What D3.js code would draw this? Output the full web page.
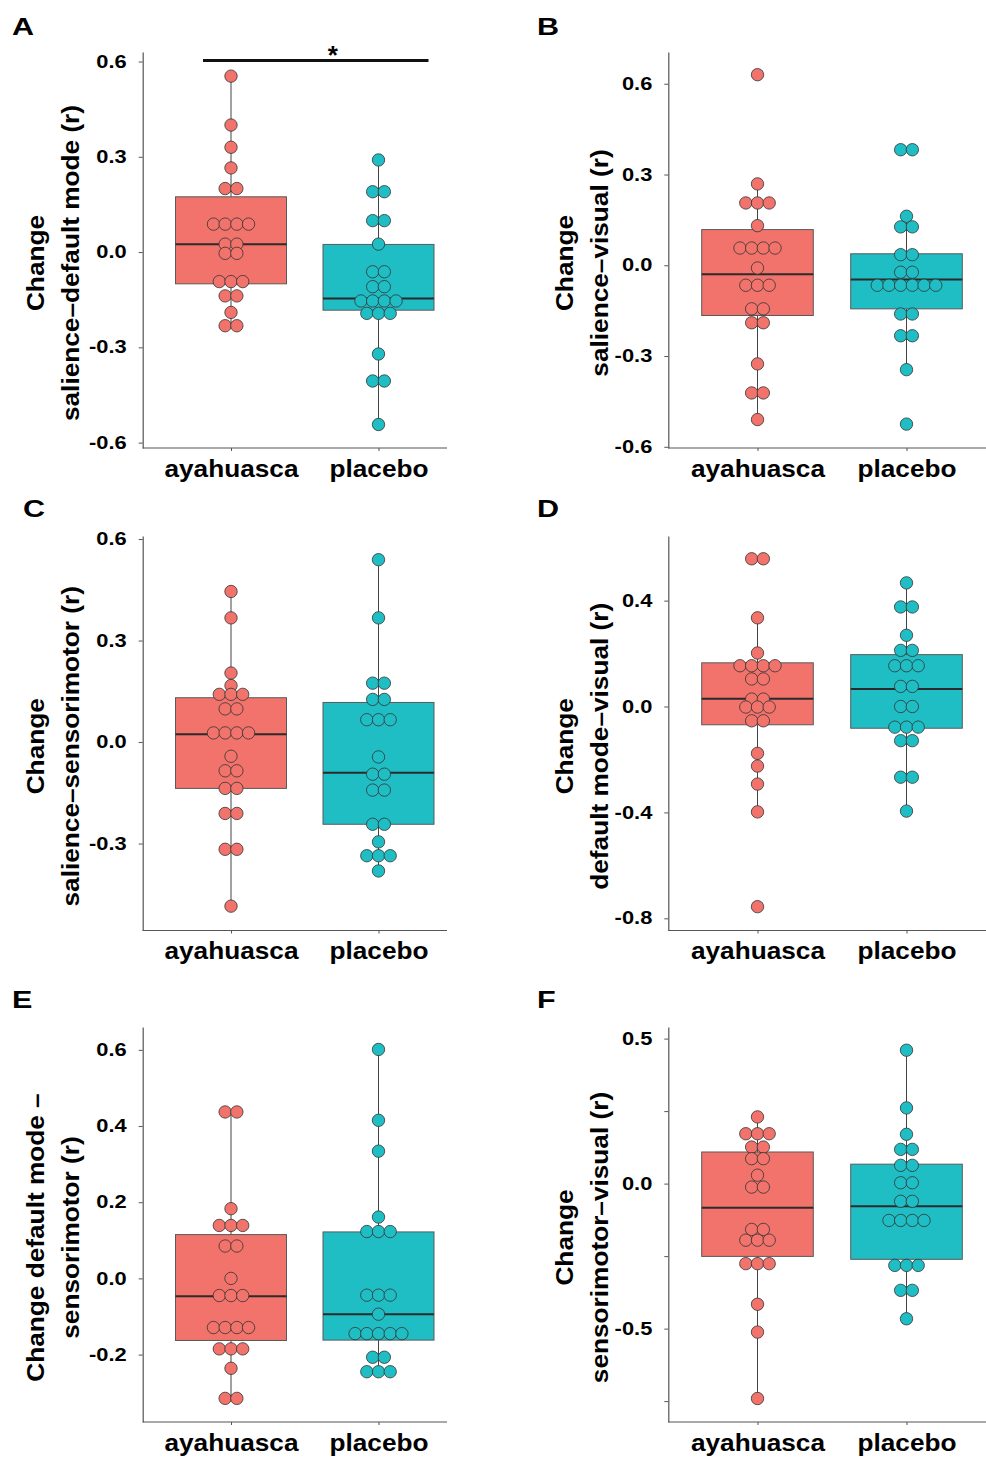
<!DOCTYPE html>
<html>
<head>
<meta charset="utf-8">
<title>ayahuasca vs placebo - connectivity change</title>
<script src="https://d3js.org/d3.v7.min.js"></script>
<style>
  body { margin: 0; background: #fff; }
  svg text { font-family: "Liberation Sans", Arial, sans-serif; font-weight: bold; fill: #000; }
</style>
</head>
<body>
<div id="fig"></div>
<script>
var groups = ["ayahuasca", "placebo"];
var colors = { ayahuasca: "#F1736B", placebo: "#1EBEC4" };
var letters = ["A", "B", "C", "D", "E", "F"];

var yLabels = [
  ["Change", "salience\u2013default mode (r)"],
  ["Change", "salience\u2013visual (r)"],
  ["Change", "salience\u2013sensorimotor (r)"],
  ["Change", "default mode\u2013visual (r)"],
  ["Change default mode \u2013", "sensorimotor (r)"],
  ["Change", "sensorimotor\u2013visual (r)"]
];

// axis extent (bottom, top)
var yDomains = [[-0.617, 0.63], [-0.604, 0.705], [-0.557, 0.609], [-0.846, 0.644], [-0.377, 0.66], [-0.822, 0.54]];

var yTicks = [
  [-0.6, -0.3, 0, 0.3, 0.6],
  [-0.6, -0.3, 0, 0.3, 0.6],
  [-0.3, 0, 0.3, 0.6],
  [-0.8, -0.4, 0, 0.4],
  [-0.2, 0, 0.2, 0.4, 0.6],
  [-0.75, -0.5, -0.25, 0, 0.25, 0.5]
];
var yTickLabels = [
  ["-0.6", "-0.3", "0.0", "0.3", "0.6"],
  ["-0.6", "-0.3", "0.0", "0.3", "0.6"],
  ["-0.3", "0.0", "0.3", "0.6"],
  ["-0.8", "-0.4", "0.0", "0.4"],
  ["-0.2", "0.0", "0.2", "0.4", "0.6"],
  ["", "-0.5", "", "0.0", "", "0.5"]
];

// dot values (equal values share a row of the dotplot)
var salDmnAya = [0.554, 0.40, 0.33, 0.265, 0.20, 0.20, 0.088, 0.088, 0.088, 0.088, 0.025, 0.025, -0.004, -0.004,
  -0.093, -0.093, -0.093, -0.138, -0.138, -0.19, -0.232, -0.232];
var salDmnPla = [0.29, 0.19, 0.19, 0.099, 0.099, 0.025, -0.062, -0.062, -0.109, -0.109, -0.154, -0.154, -0.154, -0.154,
  -0.193, -0.193, -0.193, -0.321, -0.406, -0.406, -0.543];
var salVisAya = [0.63, 0.269, 0.206, 0.206, 0.206, 0.131, 0.057, 0.057, 0.057, 0.057, -0.009, -0.066, -0.066, -0.066,
  -0.144, -0.144, -0.19, -0.19, -0.326, -0.422, -0.422, -0.51];
var salVisPla = [0.382, 0.382, 0.162, 0.127, 0.127, 0.035, 0.035, -0.023, -0.023, -0.066, -0.066, -0.066, -0.066, -0.066, -0.066,
  -0.161, -0.161, -0.233, -0.233, -0.345, -0.525];
var salSmnAya = [0.445, 0.367, 0.204, 0.167, 0.141, 0.141, 0.141, 0.098, 0.098, 0.027, 0.027, 0.027, 0.027, -0.042,
  -0.085, -0.085, -0.137, -0.137, -0.211, -0.211, -0.317, -0.317, -0.485];
var salSmnPla = [0.539, 0.367, 0.174, 0.174, 0.126, 0.126, 0.066, 0.066, 0.066, -0.044, -0.095, -0.095, -0.142, -0.142,
  -0.243, -0.243, -0.295, -0.336, -0.336, -0.336, -0.381];
var dmnVisAya = [0.558, 0.558, 0.335, 0.202, 0.154, 0.154, 0.154, 0.154, 0.104, 0.104, 0.028, 0.028, -0.002, -0.002, -0.002,
  -0.054, -0.054, -0.177, -0.225, -0.293, -0.398, -0.756];
var dmnVisPla = [0.467, 0.376, 0.376, 0.269, 0.212, 0.212, 0.154, 0.154, 0.154, 0.076, 0.076, 0.0, 0.0,
  -0.078, -0.078, -0.078, -0.129, -0.129, -0.267, -0.267, -0.395];
var dmnSmnAya = [0.437, 0.437, 0.183, 0.139, 0.139, 0.139, 0.085, 0.085, 0.0, -0.045, -0.045, -0.045,
  -0.129, -0.129, -0.129, -0.129, -0.185, -0.185, -0.185, -0.236, -0.315, -0.315];
var dmnSmnPla = [0.601, 0.415, 0.334, 0.161, 0.123, 0.123, 0.123, -0.044, -0.044, -0.044, -0.094,
  -0.145, -0.145, -0.145, -0.145, -0.145, -0.207, -0.207, -0.245, -0.245, -0.245];
var smnVisAya = [0.23, 0.172, 0.172, 0.172, 0.126, 0.126, 0.086, 0.086, 0.029, -0.012, -0.012, -0.158, -0.158,
  -0.195, -0.195, -0.195, -0.276, -0.276, -0.276, -0.416, -0.512, -0.741];
var smnVisPla = [0.46, 0.261, 0.17, 0.118, 0.118, 0.063, 0.063, 0.003, 0.003, -0.061, -0.061,
  -0.127, -0.127, -0.127, -0.127, -0.282, -0.282, -0.282, -0.368, -0.368, -0.466];

// box stats: [whisker low, q1, median, q3, whisker high]
var salDmnBoxAya = [-0.232, -0.10, 0.025, 0.174, 0.554];
var salDmnBoxPla = [-0.543, -0.183, -0.146, 0.024, 0.29];
var salVisBoxAya = [-0.51, -0.166, -0.03, 0.118, 0.269];
var salVisBoxPla = [-0.345, -0.144, -0.047, 0.038, 0.162];
var salSmnBoxAya = [-0.485, -0.137, 0.023, 0.131, 0.445];
var salSmnBoxPla = [-0.381, -0.243, -0.091, 0.117, 0.539];
var dmnVisBoxAya = [-0.398, -0.069, 0.029, 0.165, 0.335];
var dmnVisBoxPla = [-0.395, -0.082, 0.066, 0.196, 0.467];
var dmnSmnBoxAya = [-0.315, -0.163, -0.047, 0.115, 0.437];
var dmnSmnBoxPla = [-0.245, -0.162, -0.094, 0.122, 0.601];
var smnVisBoxAya = [-0.741, -0.251, -0.083, 0.109, 0.23];
var smnVisBoxPla = [-0.466, -0.261, -0.078, 0.067, 0.46];

// significance in panel A
var sigLevel = 0.603;
var sigText = "*";

var panels = [
  { dots: [salDmnAya, salDmnPla], box: [salDmnBoxAya, salDmnBoxPla] },
  { dots: [salVisAya, salVisPla], box: [salVisBoxAya, salVisBoxPla] },
  { dots: [salSmnAya, salSmnPla], box: [salSmnBoxAya, salSmnBoxPla] },
  { dots: [dmnVisAya, dmnVisPla], box: [dmnVisBoxAya, dmnVisBoxPla] },
  { dots: [dmnSmnAya, dmnSmnPla], box: [dmnSmnBoxAya, dmnSmnBoxPla] },
  { dots: [smnVisAya, smnVisPla], box: [smnVisBoxAya, smnVisBoxPla] }
];

// layout
var cols = [
  { axisX: 142.7, right: 447, c1: 231, c2: 378.5, half: 55.5, lab1: 44.3, lab2: 79.3, letterX: 12 },
  { axisX: 668.3, right: 986, c1: 757.5, c2: 906.5, half: 55.8, lab1: 573, lab2: 608, letterX: 537 }
];
var rows = [
  { top: 52, bottom: 448, letterY: 35 },
  { top: 536, bottom: 930.5, letterY: 516.7 },
  { top: 1027, bottom: 1422, letterY: 1008.3 }
];
var letterShift = { C: 11 };
var dotR = 6.2, dotStep = 11.7;

var svg = d3.select("#fig").append("svg")
  .attr("width", 986)
  .attr("height", 1458);

panels.forEach(function(p, i) {
  var col = cols[i % 2], row = rows[Math.floor(i / 2)];
  var g = svg.append("g");

  var y = d3.scaleLinear().domain(yDomains[i]).range([row.bottom, row.top]);
  var x = d3.scalePoint().domain(groups).range([col.c1, col.c2]);

  // y axis
  var ya = g.append("g")
    .attr("transform", "translate(" + col.axisX + ",0)")
    .call(d3.axisLeft(y).tickValues(yTicks[i])
      .tickFormat(function(d, j) { return yTickLabels[i][j]; })
      .tickSize(4).tickSizeOuter(0));
  ya.select(".domain").attr("stroke", "#555").attr("stroke-width", 1.2);
  ya.selectAll(".tick line").attr("stroke", "#555");
  ya.selectAll(".tick text")
    .attr("x", -16 / 1.25)
    .attr("font-size", 17.5)
    .attr("font-family", null)
    .attr("transform", "scale(1.25,1)");

  // x axis
  var xa = g.append("g")
    .attr("transform", "translate(0," + row.bottom + ")")
    .call(d3.axisBottom(x).tickSize(3).tickSizeOuter(0));
  xa.select(".domain").remove();
  xa.append("line")
    .attr("x1", col.axisX).attr("x2", col.right)
    .attr("stroke", "#555").attr("stroke-width", 1.2);
  xa.selectAll(".tick line").attr("stroke", "#555");
  xa.selectAll(".tick text")
    .attr("y", 29).attr("dy", 0)
    .attr("font-size", 23)
    .attr("font-family", null)
    .attr("transform", "scale(1.14,1)");

  // y label (two lines)
  var cy = (row.top + row.bottom) / 2 + 13;
  [col.lab1, col.lab2].forEach(function(lx, k) {
    g.append("text")
      .attr("transform", "translate(" + lx + "," + cy + ") rotate(-90) scale(1.14,1)")
      .attr("text-anchor", "middle")
      .attr("font-size", 23)
      .text(yLabels[i][k]);
  });

  // panel letter
  g.append("text")
    .attr("transform", "translate(" + (col.letterX + (letterShift[letters[i]] || 0)) + "," + row.letterY + ") scale(1.3,1)")
    .attr("font-size", 23.5)
    .text(letters[i]);

  groups.forEach(function(grp, gi) {
    var b = p.box[gi], cx = x(grp);
    // whiskers
    g.append("line")
      .attr("x1", cx).attr("x2", cx)
      .attr("y1", y(b[0])).attr("y2", y(b[1]))
      .attr("stroke", "#444").attr("stroke-width", 1);
    g.append("line")
      .attr("x1", cx).attr("x2", cx)
      .attr("y1", y(b[3])).attr("y2", y(b[4]))
      .attr("stroke", "#444").attr("stroke-width", 1);
    // box
    g.append("rect")
      .attr("x", cx - col.half).attr("width", col.half * 2)
      .attr("y", y(b[3])).attr("height", y(b[1]) - y(b[3]))
      .attr("fill", colors[grp])
      .attr("stroke", "#5a5a5a").attr("stroke-width", 1);
    g.append("line")
      .attr("x1", cx - col.half).attr("x2", cx + col.half)
      .attr("y1", y(b[2])).attr("y2", y(b[2]))
      .attr("stroke", "#2b2b2b").attr("stroke-width", 2);

    // dots, stacked centred in rows of equal value
    var vals = p.dots[gi];
    var counts = d3.rollup(vals, function(v) { return v.length; }, function(d) { return d; });
    var seen = new Map();
    var pts = vals.map(function(v) {
      var k = seen.get(v) || 0;
      seen.set(v, k + 1);
      return { v: v, off: (k - (counts.get(v) - 1) / 2) * dotStep };
    });
    g.selectAll(null).data(pts).enter().append("circle")
      .attr("cx", function(d) { return cx + d.off; })
      .attr("cy", function(d) { return y(d.v); })
      .attr("r", dotR)
      .attr("fill", colors[grp])
      .attr("stroke", "#333")
      .attr("stroke-width", 0.8);
  });

  if (i === 0) {
    g.append("line")
      .attr("x1", x(groups[0]) - 28).attr("x2", x(groups[1]) + 50)
      .attr("y1", y(sigLevel)).attr("y2", y(sigLevel))
      .attr("stroke", "#111").attr("stroke-width", 3);
    g.append("text")
      .attr("x", (x(groups[0]) + x(groups[1])) / 2 + 28)
      .attr("y", y(sigLevel) + 3)
      .attr("text-anchor", "middle")
      .attr("font-size", 26)
      .text(sigText);
  }
});
</script>
</body>
</html>
